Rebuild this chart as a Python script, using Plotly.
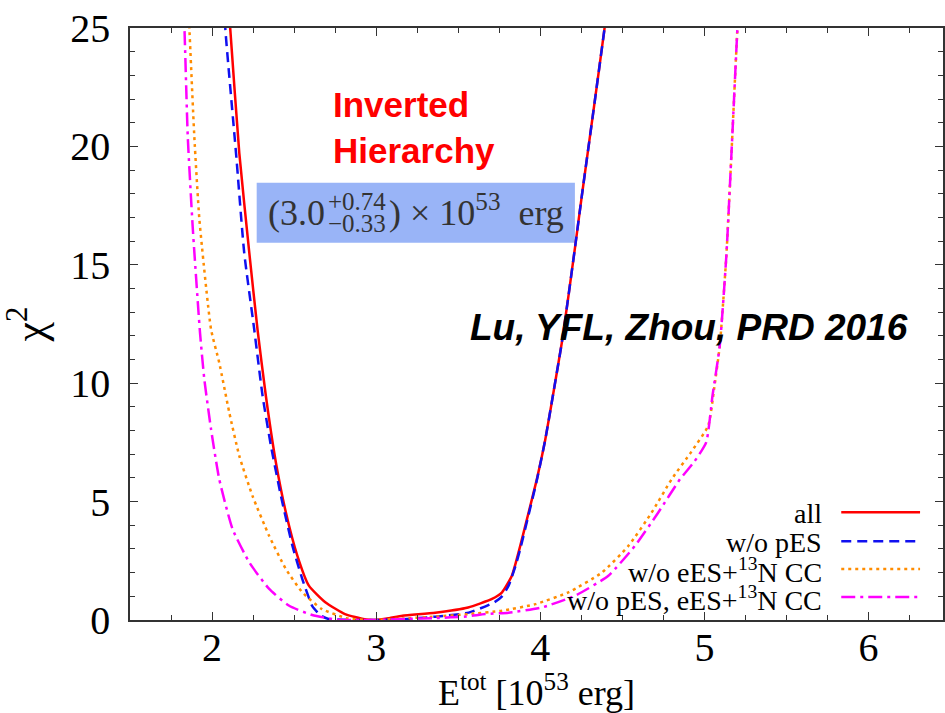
import plotly.graph_objects as go

# ---------------- data ----------------
all_x = [2.100, 2.111, 2.166, 2.227, 2.277, 2.328, 2.389, 2.450, 2.520, 2.590, 2.690, 2.810, 2.930, 3.000,
         3.080, 3.160, 3.360, 3.560, 3.706, 3.767, 3.827, 3.878, 3.929, 3.979, 4.030, 4.080, 4.131, 4.172,
         4.213, 4.253, 4.324, 4.391, 4.410]
all_y = [26.0, 24.95, 19.72, 15.5, 12.27, 9.46, 6.65, 4.54, 2.71, 1.45, 0.75, 0.25, 0.03, 0.0,
         0.08, 0.18, 0.31, 0.53, 0.89, 1.17, 1.87, 3.13, 4.54, 5.94, 7.6, 9.6, 11.7, 13.7,
         15.8, 17.9, 21.5, 24.95, 26.0]

nopes_x = [2.075, 2.081, 2.146, 2.196, 2.257, 2.308, 2.359, 2.420, 2.490, 2.550, 2.610, 2.660, 2.710, 2.800,
           2.900, 3.000, 3.160, 3.360, 3.564, 3.720, 3.767, 3.807, 3.850, 3.878, 3.929, 3.979, 4.030, 4.080,
           4.131, 4.172, 4.213, 4.253, 4.324, 4.391, 4.410]
nopes_y = [26.0, 24.95, 19.72, 15.5, 12.27, 9.46, 7.35, 5.23, 3.13, 1.73, 0.60, 0.20, 0.04, 0.01,
           0.0, 0.0, 0.03, 0.14, 0.31, 0.75, 1.0, 1.45, 2.3, 3.0, 4.45, 5.9, 7.6, 9.6,
           11.7, 13.7, 15.8, 17.9, 21.5, 24.95, 26.0]

noees_x = [1.855, 1.862, 1.892, 1.923, 1.994, 2.044, 2.105, 2.166, 2.247, 2.348, 2.450, 2.550, 2.670, 2.830,
           2.930, 3.000, 3.160, 3.360, 3.564, 3.767, 3.970, 4.172, 4.375, 4.537, 4.679, 4.800, 4.920, 5.023,
           5.060, 5.094, 5.134, 5.165, 5.201, 5.210]
noees_y = [26.0, 24.95, 20.4, 16.9, 12.27, 10.86, 8.76, 6.93, 5.23, 3.55, 2.15, 1.17, 0.46, 0.06,
           0.01, 0.0, 0.06, 0.14, 0.25, 0.39, 0.67, 1.17, 2.0, 3.13, 4.54, 5.94, 7.1, 8.2,
           9.8, 11.6, 15.4, 19.7, 24.95, 26.0]

noboth_x = [1.825, 1.832, 1.852, 1.882, 1.927, 1.953, 1.994, 2.044, 2.125, 2.227, 2.348, 2.470, 2.610, 2.750,
            2.900, 3.000, 3.200, 3.360, 3.550, 3.665, 3.807, 4.010, 4.213, 4.415, 4.577, 4.719, 4.851, 4.940,
            5.011, 5.050, 5.094, 5.134, 5.165, 5.201, 5.210]
noboth_y = [26.0, 24.95, 20.4, 16.6, 12.1, 10.16, 8.05, 5.94, 3.84, 2.43, 1.31, 0.60, 0.21, 0.02,
            0.0, 0.0, 0.05, 0.08, 0.15, 0.25, 0.31, 0.53, 1.03, 1.87, 3.13, 4.54, 5.94, 6.7,
            7.5, 9.5, 11.6, 15.4, 19.7, 24.95, 26.0]

series_names = ["all", "w/o pES", "w/o eES+<sup>13</sup>N CC", "w/o pES, eES+<sup>13</sup>N CC"]
series_colors = ["#FF0000", "#1010F0", "#FF8C00", "#FF00FF"]
series_dash = ["solid", "10px,6px", "3px,4px", "14px,5px,3px,5px"]

x_range = [1.5, 6.454]
y_range = [0, 25]
x_ticks = [2, 3, 4, 5, 6]
y_ticks = [0, 5, 10, 15, 20, 25]

# ---------------- figure ----------------
W, H = 945, 713
ML, MR, MT, MB = 130, 0, 28, 92
PW, PH = W - ML - MR, H - MT - MB


def px(xp):
    return (xp - ML) / PW


def py(yp):
    return (H - MB - yp) / PH


fig = go.Figure()
data = [(all_x, all_y), (nopes_x, nopes_y), (noees_x, noees_y), (noboth_x, noboth_y)]
for (xs, ys), name, col, dash in zip(data, series_names, series_colors, series_dash):
    fig.add_trace(go.Scatter(x=xs, y=ys, mode="lines", name=name,
                             line=dict(color=col, width=2.5, dash=dash, shape="spline", smoothing=0.5),
                             showlegend=False))

serif = "Liberation Serif"
sans = "Liberation Sans"

axis_common = dict(showline=True, linecolor="#333333", linewidth=1.5, mirror="allticks",
                   ticks="inside", ticklen=8, tickwidth=1.2, tickcolor="#333333",
                   showgrid=False, zeroline=False,
                   tickfont=dict(family=serif, size=40, color="black"))

fig.update_xaxes(range=x_range, tickvals=x_ticks, ticktext=[str(t) for t in x_ticks],
                 minor=dict(dtick=0.25, ticks="inside", ticklen=5, tickcolor="#333333", showgrid=False),
                 ticklabelstandoff=-9,
                 title=dict(text="E<sup>tot</sup> [10<sup>53</sup> erg]",
                            font=dict(family=serif, size=36, color="black"), standoff=18),
                 **axis_common)
fig.update_yaxes(range=y_range, tickvals=y_ticks, ticktext=[str(t) for t in y_ticks],
                 minor=dict(dtick=1, ticks="inside", ticklen=5, tickcolor="#333333", showgrid=False),
                 ticklabelstandoff=10,
                 title=dict(text="χ<sup>2</sup>", font=dict(family=serif, size=44, color="black"), standoff=16),
                 **axis_common)

# text labels
fig.add_annotation(xref="paper", yref="paper", x=px(331), y=py(128), xanchor="left", yanchor="middle",
                   text="<b>Inverted<br>Hierarchy</b>", align="left", showarrow=False,
                   font=dict(family=sans, size=35, color="#FF0000"))
fig.add_annotation(xref="paper", yref="paper", x=px(912), y=py(328), xanchor="right", yanchor="middle",
                   text="<b><i>Lu, YFL, Zhou, PRD 2016</i></b>", showarrow=False,
                   font=dict(family=sans, size=37, color="black"))

# blue box with result
fig.add_shape(type="rect", xref="paper", yref="paper", x0=px(257), x1=px(576), y0=py(243), y1=py(183),
              fillcolor="#99B4F7", line=dict(width=0), layer="below")
box_font = dict(family=serif, size=36, color="#333333")
fig.add_annotation(xref="paper", yref="paper", x=px(327), y=py(213), xanchor="right", yanchor="middle",
                   text="(3.0", showarrow=False, font=box_font)
fig.add_annotation(xref="paper", yref="paper", x=px(326), y=py(202), xanchor="left", yanchor="middle",
                   text="+0.74", showarrow=False, font=dict(family=serif, size=25, color="#333333"))
fig.add_annotation(xref="paper", yref="paper", x=px(326), y=py(224), xanchor="left", yanchor="middle",
                   text="−0.33", showarrow=False, font=dict(family=serif, size=25, color="#333333"))
fig.add_annotation(xref="paper", yref="paper", x=px(388), y=py(211), xanchor="left", yanchor="middle",
                   text=") × 10<sup>53</sup>  erg", showarrow=False, font=box_font)

# custom legend (text right-aligned, key lines on the right)
leg_y = [513, 542, 570, 598]
for name, col, dash, yy in zip(series_names, series_colors, series_dash, leg_y):
    fig.add_annotation(xref="paper", yref="paper", x=px(826), y=py(yy + 1), xanchor="right", yanchor="middle",
                       text=name, showarrow=False, font=dict(family=serif, size=28, color="black"))
    fig.add_shape(type="line", xref="paper", yref="paper", x0=px(843), x1=px(922), y0=py(yy), y1=py(yy),
                  line=dict(color=col, width=2.5, dash=dash))

fig.update_layout(width=W, height=H, margin=dict(l=ML, r=MR, t=MT, b=MB),
                  paper_bgcolor="white", plot_bgcolor="white", showlegend=False)

fig.write_html("out.html")
